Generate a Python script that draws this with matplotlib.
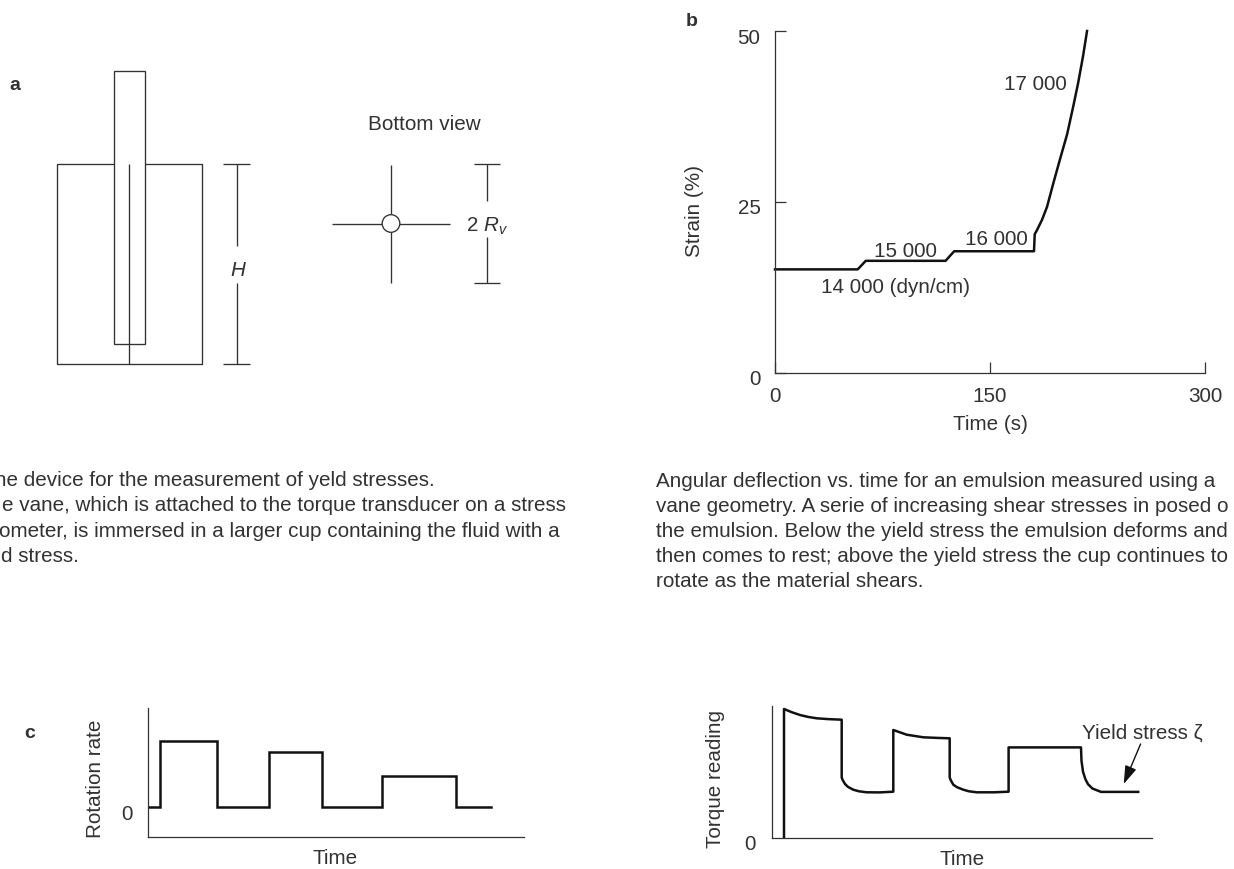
import numpy as np
import matplotlib
matplotlib.use('Agg')
import matplotlib.pyplot as plt
from matplotlib.transforms import ScaledTranslation

W, H = 1234, 870
plt.rcParams['font.family'] = ['Liberation Sans', 'DejaVu Sans']
plt.rcParams['mathtext.fontset'] = 'custom'
plt.rcParams['mathtext.it'] = 'Liberation Sans:italic'
plt.rcParams['mathtext.rm'] = 'Liberation Sans'
INK = '#333132'
LINE = '#111111'
FS = 14.9

# panel b: strain curve
b_time = [0, 57.7, 63.3, 119, 125, 180.7, 181.2, 182.8, 186.3, 189.8, 194, 198.9, 203.8, 208, 211.4, 214.9, 217.7]
b_strain = [15.15, 15.15, 16.4, 16.4, 17.8, 17.8, 20.3, 20.9, 22.4, 24.3, 27.6, 31.3, 34.9, 38.9, 42.3, 46.3, 50]
b_xticks = [0, 150, 300]
b_yticks = [0, 25, 50]

# panel c: rotation rate steps
c_time = [0, 12, 12, 68.4, 68.4, 120.4, 120.4, 174, 174, 234, 234, 307.7, 307.7, 343]
c_rate = [0, 0, 65.4, 65.4, 0, 0, 55, 55, 0, 0, 30.3, 30.3, 0, 0]

# panel d: torque reading
d_time = [12, 12, 20, 28, 36, 44.7, 56, 69.7, 69.7, 70.5, 73, 76, 81.3, 87, 94.7, 108, 121.3, 121.3, 134.7, 151.3, 165,
          177.7, 177.7, 178.5, 181.3, 185, 191.3, 197, 204.7, 222, 236.6, 236.6, 309, 309.5, 311, 313.4, 316, 320.4,
          329, 366.2]
d_torque = [0, 128.7, 125.4, 122.7, 120.8, 119.4, 118.6, 118, 60.4, 58, 53.7, 50.8, 48, 46.4, 45.4, 45.3, 46, 107.7, 103,
            100.4, 99.8, 99.4, 60.4, 58, 53, 50.5, 48, 46.4, 45.4, 45.4, 46, 90.3, 90.3, 76.9, 66, 58.5, 53.5, 49.2,
            45.8, 45.8]

# panel a: vane schematic, in picture pixels
cup_x = [57, 201.5, 201.5, 57, 57]
cup_y = [165, 165, 365, 365, 165]
vane_x = [114, 144.5, 144.5, 114]
vane_y = [72, 72, 345, 345]
shaft_x = [129, 129]
shaft_y = [165, 365]
cross_center = (391, 224.5)
cross_half = (59, 59)

# only what the crop of the page leaves visible
caption_a = ['ne device for the measurement of yeld stresses.',
             'e vane, which is attached to the torque transducer on a stress',
             'ometer, is immersed in a larger cup containing the fluid with a',
             'd stress.']
caption_a_x = [-5, 2.5, -1, 1]
caption_a_y = [486, 511, 537, 562]
caption_b = ['Angular deflection vs. time for an emulsion measured using a',
             'vane geometry. A serie of increasing shear stresses in posed o',
             'the emulsion. Below the yield stress the emulsion deforms and',
             'then comes to rest; above the yield stress the cup continues to',
             'rotate as the material shears.']
caption_b_y = [487.5, 512.3, 537, 562, 586.7]


def px_axes(fig, x0, y0, x1, y1):
    return fig.add_axes([x0 / W, 1 - y1 / H, (x1 - x0) / W, (y1 - y0) / H])


def clean(ax):
    ax.spines['top'].set_visible(False)
    ax.spines['right'].set_visible(False)
    for s in ax.spines.values():
        s.set_linewidth(0.9)
        s.set_color(INK)
    ax.patch.set_alpha(0)


def shift_labels(labels, dy_px):
    for lab in labels:
        lab.set_transform(lab.get_transform() + ScaledTranslation(0, -dy_px / 100, fig.dpi_scale_trans))


fig = plt.figure(figsize=(W / 100, H / 100), dpi=100)

# canvas for the schematic and captions, y runs down like the picture
bg = fig.add_axes([0, 0, 1, 1])
bg.set_xlim(0, W)
bg.set_ylim(H, 0)
bg.axis('off')

lk = dict(color=INK, lw=0.95, solid_capstyle='butt')
bg.plot(cup_x, cup_y, **lk)
bg.fill(vane_x, vane_y, fc='white', ec=INK, lw=0.95, zorder=3)
bg.plot(shaft_x, shaft_y, zorder=4, **lk)

# H bracket
bg.plot([236.5, 236.5], [165, 247], **lk)
bg.plot([236.5, 236.5], [284, 365], **lk)
bg.plot([223, 250], [165, 165], **lk)
bg.plot([223, 250], [365, 365], **lk)
bg.text(237.5, 271, 'H', style='italic', fontsize=FS, ha='center', va='center', color=INK)

# bottom view
cx, cy = cross_center
bg.plot([cx, cx], [cy - cross_half[1], cy + cross_half[1]], **lk)
bg.plot([cx - cross_half[0], cx + cross_half[0]], [cy, cy], **lk)
bg.add_patch(plt.Circle((cx, cy), 8.8, fc='white', ec=INK, lw=0.95, zorder=3))
bg.plot([487, 487], [165, 202], **lk)
bg.plot([487, 487], [238, 283.5], **lk)
bg.plot([473.5, 500], [165, 165], **lk)
bg.plot([473.5, 500], [283.5, 283.5], **lk)
bg.text(487.5, 232, r'2 $\mathit{R_v}$', fontsize=FS, ha='center', va='baseline', color=INK)
bg.text(424.5, 124, 'Bottom view', fontsize=FS, ha='center', va='center', color=INK)

bg.text(15, 85, 'a', fontweight='bold', fontsize=14, ha='center', va='center', color=INK)
bg.text(692, 21, 'b', fontweight='bold', fontsize=14, ha='center', va='center', color=INK)
bg.text(29.5, 734, 'c', fontweight='bold', fontsize=14, ha='center', va='center', color=INK)

for s, x, y in zip(caption_a, caption_a_x, caption_a_y):
    bg.text(x, y, s, fontsize=FS, va='baseline', color=INK)
for s, y in zip(caption_b, caption_b_y):
    bg.text(656, y, s, fontsize=FS, va='baseline', color=INK)

# panel b
ax = px_axes(fig, 775, 32, 1205, 374)
clean(ax)
ax.plot(b_time, b_strain, color=LINE, lw=1.8, solid_joinstyle='round', clip_on=False)
ax.set_xlim(0, 300)
ax.set_ylim(0, 50)
ax.set_xticks(b_xticks)
ax.set_yticks(b_yticks)
ax.tick_params(direction='in', length=8, width=0.9, color=INK, labelcolor=INK, labelsize=FS)
ax.tick_params(axis='x', pad=9.5)
ax.tick_params(axis='y', pad=10.5)
shift_labels(ax.get_yticklabels(), 4)
ax.set_xlabel('Time (s)', fontsize=FS, color=INK, va='center')
ax.xaxis.set_label_coords(990, 425, transform=bg.transData)
ax.set_ylabel('Strain (%)', fontsize=FS, color=INK, va='center')
ax.yaxis.set_label_coords(694, 211, transform=bg.transData)
ax.text(84.4, 12.6, '14 000 (dyn/cm)', fontsize=FS, ha='center', va='center', color=INK)
ax.text(91.2, 17.9, '15 000', fontsize=FS, ha='center', va='center', color=INK)
ax.text(154.7, 19.7, '16 000', fontsize=FS, ha='center', va='center', color=INK)
ax.text(181.8, 42.3, '17 000', fontsize=FS, ha='center', va='center', color=INK)

# panel c
ax = px_axes(fig, 148.3, 709.3, 523.7, 838)
clean(ax)
ax.plot(c_time, c_rate, color=LINE, lw=1.8, solid_joinstyle='miter')
ax.set_xlim(0, 375.4)
ax.set_ylim(-30.3, 98.4)
ax.set_xticks([])
ax.set_yticks([0], ['0'])
ax.tick_params(length=0, labelcolor=INK, labelsize=FS, pad=11)
shift_labels(ax.get_yticklabels(), 5)
ax.set_xlabel('Time', fontsize=FS, color=INK, va='center')
ax.xaxis.set_label_coords(335, 859, transform=bg.transData)
ax.set_ylabel('Rotation rate', fontsize=FS, color=INK, va='center')
ax.yaxis.set_label_coords(95.5, 779, transform=bg.transData)

# panel d
ax = px_axes(fig, 772, 706.7, 1151.6, 838.7)
clean(ax)
ax.plot(d_time, d_torque, color=LINE, lw=1.8, solid_joinstyle='round')
ax.set_xlim(0, 379.6)
ax.set_ylim(0, 132)
ax.set_xticks([])
ax.set_yticks([0], ['0'])
ax.tick_params(length=0, labelcolor=INK, labelsize=FS, pad=11.5)
shift_labels(ax.get_yticklabels(), 4)
ax.set_xlabel('Time', fontsize=FS, color=INK, va='center')
ax.xaxis.set_label_coords(961.7, 860, transform=bg.transData)
ax.set_ylabel('Torque reading', fontsize=FS, color=INK, va='center')
ax.yaxis.set_label_coords(715.5, 779, transform=bg.transData)
ax.text(370, 106, 'Yield stress ζ', fontsize=FS, color=INK, ha='center', va='center')
ax.annotate('', xy=(351.7, 53.7), xytext=(368.6, 93.7), annotation_clip=False,
            arrowprops=dict(arrowstyle='-|>,head_width=0.36,head_length=1.1', color=LINE, lw=1,
                            shrinkA=0, shrinkB=0))

fig.savefig('out.png', dpi=100)
